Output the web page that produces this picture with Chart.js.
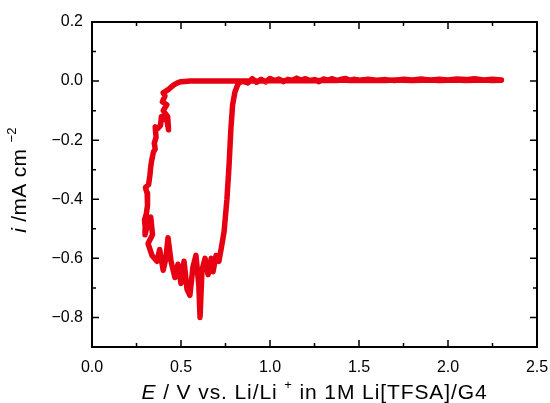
<!DOCTYPE html>
<html>
<head>
<meta charset="utf-8">
<style>
  body { margin: 0; background: #fff; }
</style>
</head>
<body>
<canvas id="chart" width="550" height="403"></canvas>
<script src="https://cdn.jsdelivr.net/npm/chart.js"></script>
<script>
// potential (V vs Li/Li+) and current density (mA cm^-2), one closed CV loop
const potential = [
  // cathodic scan along the baseline
  2.30, 2.25, 2.20, 2.15, 2.10, 2.05, 2.00, 1.95, 1.90, 1.85, 1.80, 1.75, 1.70, 1.65, 1.60, 1.55,
  1.50, 1.45, 1.40, 1.35, 1.30, 1.25, 1.20, 1.15, 1.10, 1.05, 1.00, 0.95, 0.90, 0.85, 0.80, 0.75,
  0.70, 0.65, 0.60, 0.55, 0.52,
  // deposition onset, left branch
  0.50, 0.48, 0.46, 0.445, 0.43, 0.40, 0.41, 0.395, 0.42, 0.40, 0.425, 0.43, 0.42, 0.39, 0.385,
  0.37, 0.355, 0.36, 0.35, 0.355, 0.345, 0.335, 0.33, 0.325, 0.318, 0.30, 0.31, 0.312, 0.305,
  0.295, 0.30, 0.298, 0.31, 0.33, 0.34, 0.315,
  // reverse scan, bottom
  0.337, 0.365, 0.38, 0.40, 0.415, 0.427, 0.444, 0.466, 0.483, 0.50, 0.517, 0.534, 0.55, 0.567,
  0.584, 0.60, 0.607, 0.618, 0.635, 0.652, 0.67, 0.68, 0.697, 0.713, 0.725,
  // stripping, right branch
  0.742, 0.758, 0.77, 0.78, 0.79, 0.803, 0.82, 0.843,
  // anodic scan along the baseline
  0.875, 0.90, 0.925, 0.95, 0.975, 1.00, 1.025, 1.05, 1.075, 1.10, 1.125, 1.15, 1.175, 1.20,
  1.225, 1.25, 1.275, 1.30, 1.325, 1.35, 1.375, 1.40, 1.425, 1.45, 1.475, 1.50, 1.55, 1.60, 1.65,
  1.70, 1.75, 1.80, 1.85, 1.90, 1.95, 2.00, 2.05, 2.10, 2.15, 2.20, 2.25, 2.30
];
const current = [
  0.003, 0.002, 0.004, 0.003, 0.002, 0.004, 0.003, 0.002, 0.004, 0.003, 0.002, 0.003, 0.004, 0.002, 0.003, 0.002,
  0.003, 0.002, 0.004, 0.002, 0.003, 0.001, 0.002, 0.001, 0.002, 0.001, 0.001, 0.000, 0.001, 0.000, 0.000, 0.000,
  0.000, 0.000, 0.000, 0.000, -0.001,
  -0.002, -0.006, -0.013, -0.020, -0.028, -0.040, -0.050, -0.070, -0.080, -0.100, -0.120, -0.165, -0.130, -0.120, -0.150,
  -0.160, -0.155, -0.190, -0.210, -0.230, -0.240, -0.270, -0.290, -0.320, -0.350, -0.360, -0.380, -0.420, -0.450,
  -0.470, -0.500, -0.520, -0.490, -0.460, -0.520, -0.550,
  -0.590, -0.610, -0.570, -0.640, -0.600, -0.530, -0.610, -0.665, -0.620, -0.685, -0.610, -0.705, -0.725, -0.630,
  -0.590, -0.690, -0.800, -0.640, -0.600, -0.655, -0.600, -0.645, -0.590, -0.610, -0.570,
  -0.510, -0.400, -0.285, -0.165, -0.080, -0.037, -0.010, 0.000,
  -0.006, 0.008, -0.004, 0.006, -0.003, 0.009, 0.002, 0.007, -0.002, 0.006, 0.002, 0.010, 0.003, 0.008,
  0.002, 0.005, -0.002, 0.007, 0.003, 0.008, 0.002, 0.006, 0.009, 0.003, 0.006, 0.002, 0.006, 0.003, 0.005,
  0.002, 0.006, 0.004, 0.007, 0.003, 0.006, 0.004, 0.007, 0.005, 0.008, 0.004, 0.006, 0.004
];

const xTicks = [0.0, 0.5, 1.0, 1.5, 2.0, 2.5];
const xMinorTicks = [0.25, 0.75, 1.25, 1.75, 2.25];
const yTicks = [-0.8, -0.6, -0.4, -0.2, 0.0, 0.2];
const yMinorTicks = [-0.9, -0.7, -0.5, -0.3, -0.1, 0.1];

const FONT = '"Liberation Sans", Arial, sans-serif';

// frame, inward ticks and the mixed-style axis titles
const framePlugin = {
  id: 'frame',
  afterDraw(chart) {
    const ctx = chart.ctx;
    const a = chart.chartArea;
    const xs = chart.scales.x, ys = chart.scales.y;
    ctx.save();
    ctx.strokeStyle = '#000';
    ctx.lineWidth = 2;
    ctx.strokeRect(a.left, a.top, a.right - a.left, a.bottom - a.top);
    ctx.lineWidth = 1.5;
    const tick = (vals, len) => {
      vals.forEach(v => {
        const px = xs.getPixelForValue(v);
        ctx.beginPath();
        ctx.moveTo(px, a.bottom); ctx.lineTo(px, a.bottom - len);
        ctx.moveTo(px, a.top); ctx.lineTo(px, a.top + len);
        ctx.stroke();
      });
    };
    const ytick = (vals, len) => {
      vals.forEach(v => {
        const py = ys.getPixelForValue(v);
        ctx.beginPath();
        ctx.moveTo(a.left, py); ctx.lineTo(a.left + len, py);
        ctx.moveTo(a.right, py); ctx.lineTo(a.right - len, py);
        ctx.stroke();
      });
    };
    tick(xTicks, 7); tick(xMinorTicks, 4);
    ytick(yTicks, 7); ytick(yMinorTicks, 4);

    // x title
    ctx.fillStyle = '#000';
    ctx.textBaseline = 'alphabetic';
    const xParts = [
      { t: 'E', f: 'italic 21px ' + FONT, dy: 0 },
      { t: ' / V vs. Li/Li ', f: '21px ' + FONT, dy: 0 },
      { t: '+', f: '13px ' + FONT, dy: -10 },
      { t: ' in 1M Li[TFSA]/G4', f: '21px ' + FONT, dy: 0 }
    ];
    drawParts(ctx, xParts, (a.left + a.right) / 2, 399, 0.9);

    // y title, rotated
    ctx.save();
    ctx.translate(26, 180);
    ctx.rotate(-Math.PI / 2);
    const yParts = [
      { t: 'i', f: 'italic 21px ' + FONT, dy: 0 },
      { t: ' /mA cm ', f: '21px ' + FONT, dy: 0 },
      { t: '\u22122', f: '13px ' + FONT, dy: -10 }
    ];
    drawParts(ctx, yParts, 0, 0, 0.3);
    ctx.restore();
    ctx.restore();
  }
};

function drawParts(ctx, parts, cx, baseY, spacing) {
  ctx.letterSpacing = spacing + 'px';
  let total = 0;
  parts.forEach(p => { ctx.font = p.f; p.w = ctx.measureText(p.t).width; total += p.w; });
  let x = cx - total / 2;
  ctx.textAlign = 'left';
  parts.forEach(p => {
    ctx.font = p.f;
    ctx.fillText(p.t, x, baseY + p.dy);
    x += p.w;
  });
  ctx.letterSpacing = '0px';
}

const fmt = v => (v < 0 ? '\u2212' : '') + Math.abs(v).toFixed(1);

new Chart(document.getElementById('chart').getContext('2d'), {
  type: 'scatter',
  data: {
    datasets: [{
      data: potential.map((x, i) => ({ x: x, y: current[i] })),
      showLine: true,
      borderColor: '#e60012',
      borderWidth: 5.5,
      borderJoinStyle: 'round',
      borderCapStyle: 'round',
      pointRadius: 0,
      tension: 0
    }]
  },
  options: {
    responsive: false,
    animation: false,
    layout: { padding: { top: 22, right: 13, left: 0, bottom: 0 } },
    plugins: { legend: { display: false }, tooltip: { enabled: false } },
    scales: {
      x: {
        type: 'linear',
        min: 0, max: 2.5,
        grid: { display: false, drawTicks: false },
        border: { display: false },
        afterBuildTicks: s => { s.ticks = xTicks.map(v => ({ value: v })); },
        afterFit: s => { s.height = 56; s.paddingLeft = 0; s.paddingRight = 0; },
        ticks: {
          padding: 11,
          color: '#000',
          font: { family: FONT, size: 16 },
          maxRotation: 0,
          callback: v => fmt(v)
        }
      },
      y: {
        type: 'linear',
        min: -0.9, max: 0.2,
        grid: { display: false, drawTicks: false },
        border: { display: false },
        afterBuildTicks: s => { s.ticks = yTicks.map(v => ({ value: v })); },
        afterFit: s => { s.width = 92; s.paddingTop = 0; s.paddingBottom = 0; },
        ticks: {
          padding: 9,
          color: '#000',
          font: { family: FONT, size: 16 },
          callback: v => fmt(v)
        }
      }
    }
  },
  plugins: [framePlugin]
});
</script>
</body>
</html>
